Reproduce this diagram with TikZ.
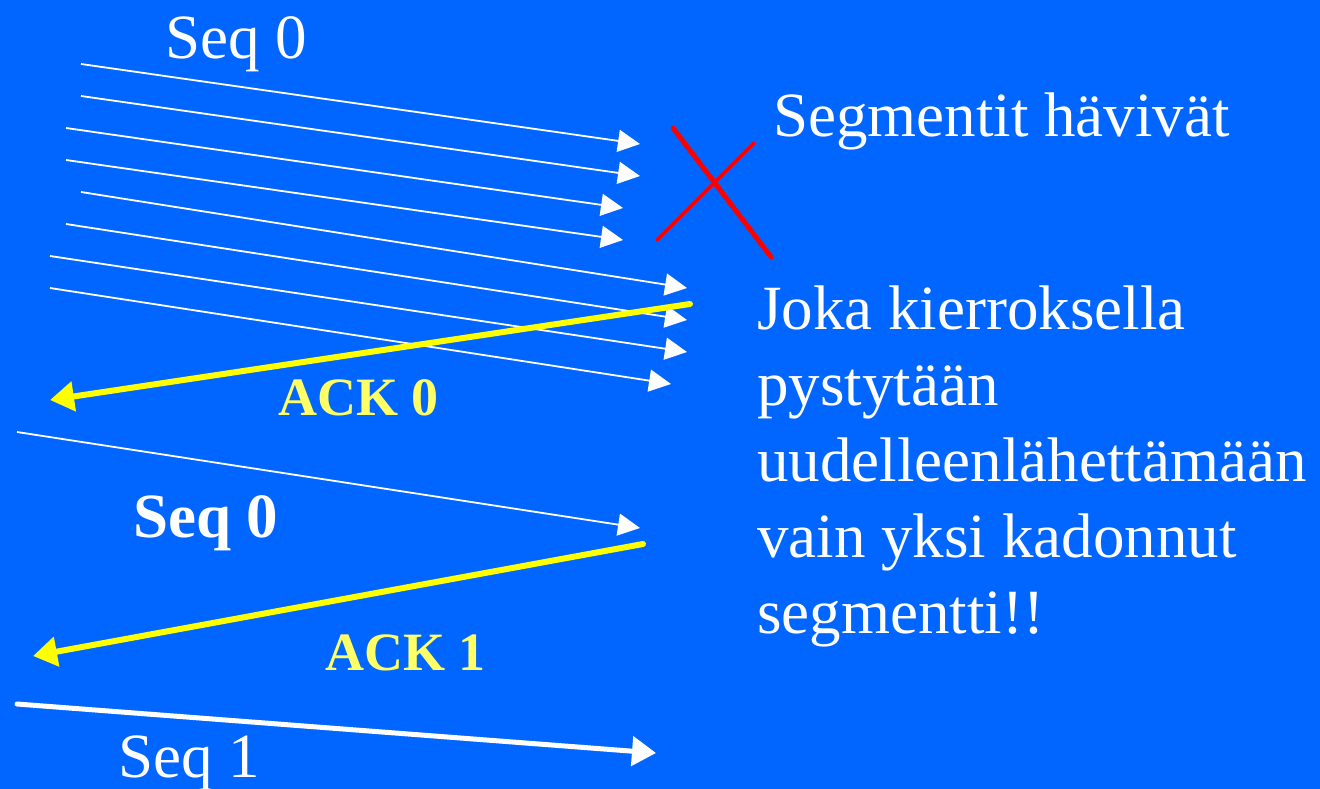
\documentclass[tikz,border=0pt]{standalone}
\usepackage{fontspec}
\setmainfont{Liberation Serif}
\usetikzlibrary{arrows.meta}
\definecolor{bg}{RGB}{0,102,255}
\definecolor{ackline}{RGB}{255,255,0}
\definecolor{acktext}{RGB}{255,255,102}
\definecolor{xred}{RGB}{255,0,0}
\tikzset{
  segarrow/.style={draw=white, line width=1.8pt, -{Triangle[length=22pt,width=22pt]}, fill=white},
  thickseg/.style={draw=white, line width=5pt, line cap=round, -{Triangle[length=24pt,width=29pt]}},
  ackarrow/.style={draw=ackline, line width=6pt, line cap=round, -{Triangle[length=24pt,width=29pt]}},
  lbl/.style={inner sep=0pt, anchor=base west, text=white, font=\fontsize{63}{75.8}\selectfont},
  acklbl/.style={inner sep=0pt, anchor=base west, text=acktext, font=\fontsize{54}{60}\selectfont\bfseries},
}
\begin{document}
\begin{tikzpicture}[x=1pt,y=-1pt]
\fill[bg] (0,0) rectangle (1320,789);
\useasboundingbox (0,0) rectangle (1320,789);
% labels
\node[lbl] (seq0top) at (165,59) {Seq 0};
\node[lbl] (lost) at (773,137) {Segmentit hävivät};
\node[lbl, align=left] (note) at (757,633) {Joka kierroksella\\pystytään\\uudelleenlähettämään\\vain yksi kadonnut\\segmentti!!};
\node[acklbl] (ack0) at (278,415) {ACK 0};
\node[lbl, font=\fontsize{63}{75.8}\selectfont\bfseries] (seq0b) at (133,537) {Seq 0};
\node[acklbl] (ack1) at (325,670) {ACK 1};
\node[lbl] (seq1) at (118,777) {Seq 1};
% endpoints
\coordinate (s1) at (81,64);   \coordinate (t1) at (640,144);
\coordinate (s2) at (81,96);   \coordinate (t2) at (640,176);
\coordinate (s3) at (66,128);  \coordinate (t3) at (623,208);
\coordinate (s4) at (66,160);  \coordinate (t4) at (623,240);
\coordinate (s5) at (81,192);  \coordinate (t5) at (687,288);
\coordinate (s6) at (66,224);  \coordinate (t6) at (687,320);
\coordinate (s7) at (50,256);  \coordinate (t7) at (687,352);
\coordinate (s8) at (50,288);  \coordinate (t8) at (671,384);
\coordinate (a0s) at (690,304); \coordinate (a0t) at (50,400);
\coordinate (r0s) at (17,432);  \coordinate (r0t) at (640,528);
\coordinate (a1s) at (643,544); \coordinate (a1t) at (33,656);
\coordinate (q1s) at (17,704);  \coordinate (q1t) at (656,753);
\coordinate (xa1) at (673,128); \coordinate (xa2) at (771,257);
\coordinate (xb1) at (754,143); \coordinate (xb2) at (657,240);
% segments
\foreach \i in {1,...,8} { \draw[segarrow] (s\i) -- (t\i); }
\draw[ackarrow] (a0s) -- (a0t);
\draw[segarrow] (r0s) -- (r0t);
\draw[ackarrow] (a1s) -- (a1t);
\draw[thickseg] (q1s) -- (q1t);
% red cross
\draw[xred, line width=5pt, line cap=round] (xa1) -- (xa2);
\draw[xred, line width=3.5pt, line cap=round] (xb1) -- (xb2);
\end{tikzpicture}
\end{document}
